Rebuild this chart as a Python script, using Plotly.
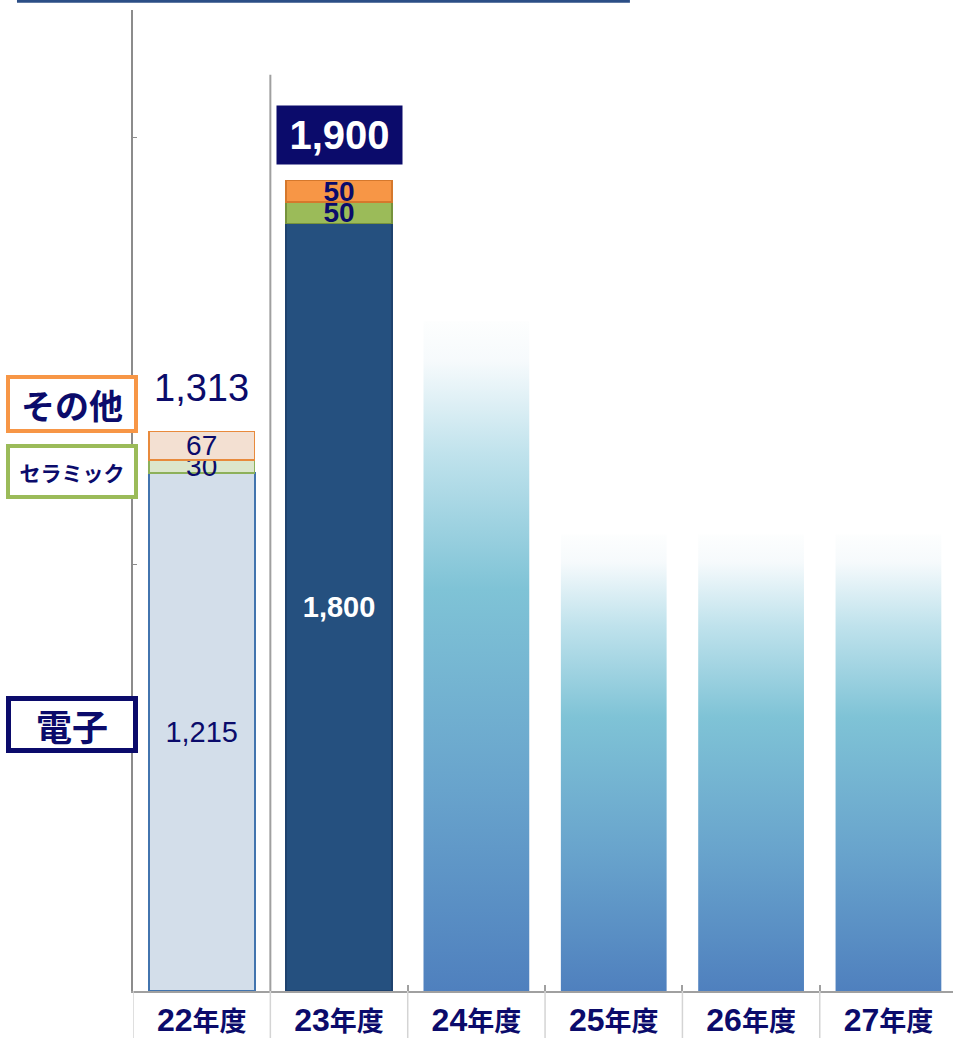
import plotly.graph_objects as go

# ---- data ----
years = ["22", "23", "24", "25", "26", "27"]
year_suffix = "年度"
electronic = [1215, 1800]          # 電子 (actual years 22, 23)
ceramic = [30, 50]                 # セラミック
others = [67, 50]                  # その他
totals = [1313, 1900]
forecast = [1570, 1070, 1070, 1070]  # 24-27 (gradient bars, no labels)
legend_labels = ["その他", "セラミック", "電子"]

NAVY = "#0B0B6B"
FONT = "Arial, 'Liberation Sans', 'Noto Sans CJK JP', sans-serif"
CJK = "'Noto Sans CJK JP', 'Liberation Sans', sans-serif"

xa = list(range(len(electronic)))
xf = list(range(len(electronic), len(years)))
W = 0.77

fig = go.Figure()

def fmt(v, bold):
    s = f"{v:,}"
    return f"<b>{s}</b>" if bold else s

common = dict(textposition="inside", insidetextanchor="middle", constraintext="none",
              textangle=0, showlegend=False, hoverinfo="skip", cliponaxis=False)

fig.add_trace(go.Bar(
    x=xa, y=electronic, width=W,
    marker=dict(color=["#D3DEEA", "#25507F"],
                line=dict(color=["#4274AE", "#1E426E"], width=2)),
    text=[fmt(v, i == 1) for i, v in enumerate(electronic)],
    textfont=dict(color=[NAVY, "white"], size=29, family=FONT), **common))
fig.add_trace(go.Bar(
    x=xa, y=ceramic, width=W,
    marker=dict(color=["#DCE6CC", "#9BBB59"],
                line=dict(color=["#8DB05A", "#76923C"], width=1.5)),
    text=[fmt(v, i == 1) for i, v in enumerate(ceramic)],
    textfont=dict(color=NAVY, size=28, family=FONT), **common))
fig.add_trace(go.Bar(
    x=xa, y=others, width=W,
    marker=dict(color=["#F3E0D2", "#F79646"],
                line=dict(color=["#E88A3C", "#D5782C"], width=1.5)),
    text=[fmt(v, i == 1) for i, v in enumerate(others)],
    textfont=dict(color=NAVY, size=28, family=FONT), **common))

# gradient forecast bars
grad = [[0.0, "#4F80BE"], [0.3, "#68A3CC"], [0.6, "#7FC3D6"],
        [0.8, "#BFE2EC"], [0.94, "#F6FAFC"], [1.0, "#FDFEFE"]]
for xi, v in zip(xf, forecast):
    fig.add_trace(go.Scatter(
        x=[xi - W / 2, xi + W / 2, xi + W / 2, xi - W / 2, xi - W / 2],
        y=[0, 0, v, v, 0], mode="lines", line=dict(width=0),
        fill="toself", fillgradient=dict(type="vertical", colorscale=grad),
        showlegend=False, hoverinfo="skip"))

# total labels
fig.add_annotation(x=xa[0], y=totals[0], text=f"{totals[0]:,}", showarrow=False,
                   yanchor="bottom", yshift=20,
                   font=dict(size=38, color=NAVY, family=FONT))
fig.add_annotation(x=xa[1], y=totals[1], text=f"<b>{totals[1]:,}</b>", showarrow=False,
                   yanchor="bottom", yshift=16, bgcolor=NAVY, width=123, height=56,
                   font=dict(size=40, color="white", family=FONT))

# legend boxes on the left
leg = [(legend_labels[0], "#F79646", 0.598, 34, 124, 50, 4),
       (legend_labels[1], "#9BBB59", 0.530, 21, 124, 47, 4),
       (legend_labels[2], NAVY, 0.2716, 36, 122, 47, 5)]
for txt, col, yp, fs, w, h, bw in leg:
    fig.add_annotation(xref="paper", yref="paper", x=-0.0744, y=yp, text=f"<b>{txt}</b>",
                       showarrow=False, xanchor="center", yanchor="middle",
                       width=w, height=h, borderwidth=bw, bordercolor=col,
                       borderpad=0, bgcolor="white",
                       font=dict(size=fs, color=NAVY, family=CJK))

# decorative lines
shapes = [
    dict(type="line", xref="paper", yref="paper", x0=-0.1415, x1=0.606, y0=1.009, y1=1.009,
         line=dict(color="#2B4E86", width=3)),
    dict(type="line", xref="x", yref="y", x0=0.5, x1=0.5, y0=0, y1=2148,
         line=dict(color="#A0A0A0", width=2)),
]
for b in [-0.5, 0.5, 1.5, 2.5, 3.5, 4.5]:
    shapes.append(dict(type="line", xref="x", yref="paper", x0=b, x1=b, y0=0, y1=-0.05,
                       line=dict(color="#D4D4D4", width=1.5)))

ticktext = [f"<b>{y}<span style='font-size:27px'>{year_suffix}</span></b>" for y in years]

fig.update_layout(
    width=953, height=1038,
    margin=dict(l=133, r=0, t=10, b=45),
    paper_bgcolor="white", plot_bgcolor="white",
    barmode="stack",
    shapes=shapes,
    xaxis=dict(range=[-0.5, 5.47], tickvals=list(range(len(years))), ticktext=ticktext,
               showline=True, linecolor="#A0A0A0", linewidth=2, showgrid=False,
               zeroline=False, ticks="",
               tickfont=dict(size=32, color=NAVY, family=FONT),
               minor=dict(tickvals=[1.5, 2.5, 3.5, 4.5], ticks="inside", ticklen=6,
                          tickcolor="#A0A0A0", tickwidth=2, showgrid=False)),
    yaxis=dict(range=[0, 2300], showline=True, linecolor="#8C8C8C", linewidth=2,
               showgrid=False, zeroline=False, ticks="inside", tickvals=[1000, 2000],
               ticklen=4, tickcolor="#8C8C8C", showticklabels=False),
)

fig.write_html("out.html", config={"displayModeBar": False},
               post_script="document.body.style.margin='0';")
